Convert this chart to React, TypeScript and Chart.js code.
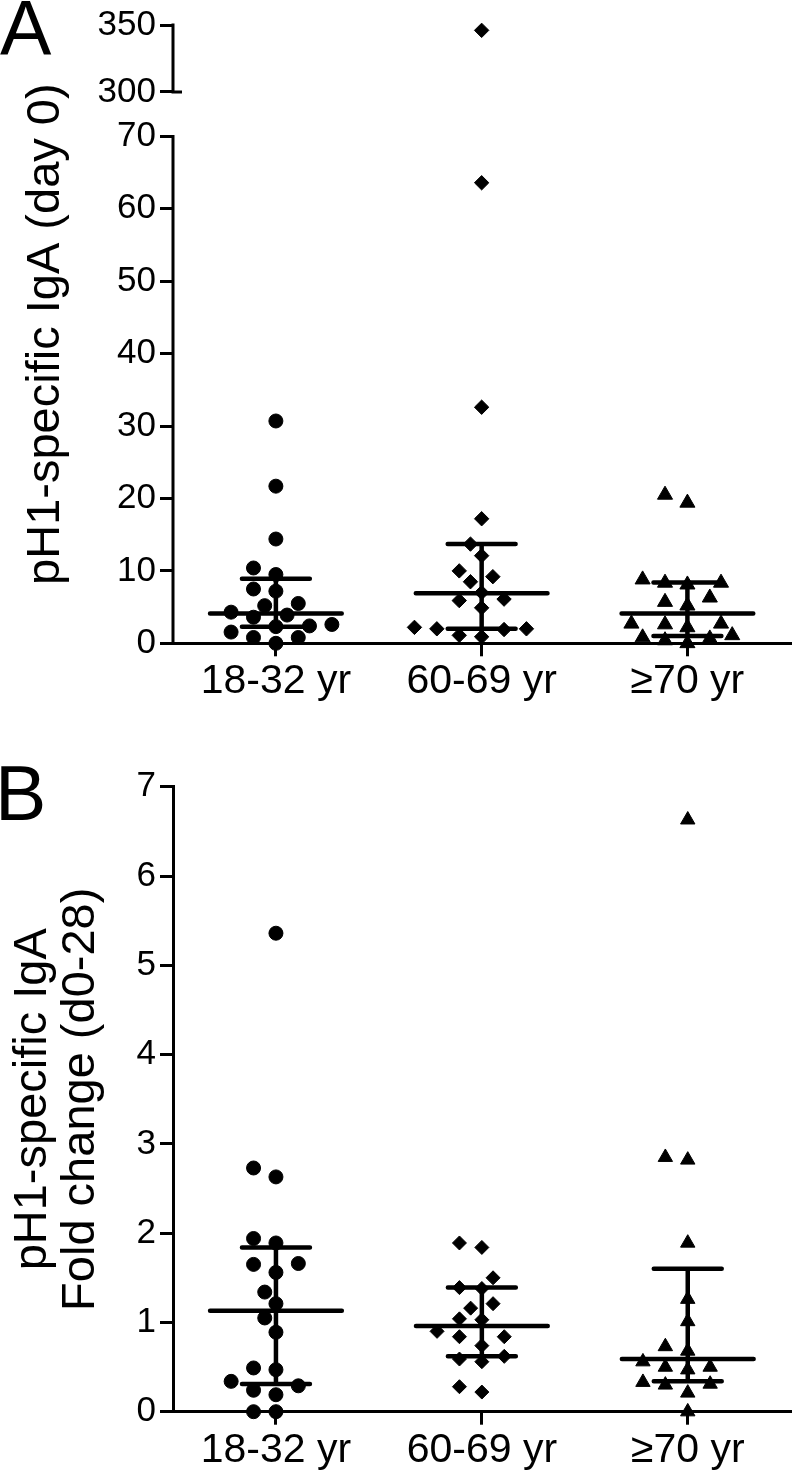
import React, { useEffect, useRef } from 'react';
import { Chart, registerables, LinearScale } from 'chart.js';

Chart.register(...registerables);

// ---------------- data ----------------
const CATEGORIES = ['18-32 yr', '60-69 yr', '≥70 yr'];
const POINT_STYLES = ['circle', 'rectRot', 'triangle'];

// Panel A: pH1-specific IgA (day 0)
const A_TITLE = 'pH1-specific IgA (day 0)';
const A_YOUNG = [30.7, 21.7, 14.4, 10.4, 9.5, 7.2, 7.5, 5.5, 5.2, 4.3, 3.6, 3.9, 2.4, 2.3, 2.6, 1.55, 0.8, 0.8, 0];
const A_MID = [346, 63.6, 32.6, 17.2, 13.7, 12.1, 10.0, 9.2, 8.5, 7.0, 5.9, 6.1, 4.9, 2.0, 2.0, 1.9, 2.2, 0.9, 1.1];
const A_OLD = [20.5, 19.4, 8.35, 8.1, 8.8, 8.35, 5.7, 5.2, 6.3, 2.7, 2.6, 2.2, 2.7, 1.1, 0.65, 0.4, 0.8, 0];
const A_MEDIAN = [4.1, 6.9, 4.1];
const A_Q1 = [2.3, 2.0, 1.0];
const A_Q3 = [8.9, 13.7, 8.4];
const A_TICKS = [0, 10, 20, 30, 40, 50, 60, 70, 300, 350];
const A_BREAK = [70, 300];
const A_MIN = 0;
const A_MAX = 350;

// Panel B: fold change d0-28
const B_TITLE = ['pH1-specific IgA', 'Fold change (d0-28)'];
const B_YOUNG = [5.36, 2.73, 2.63, 1.94, 1.89, 1.66, 1.65, 1.56, 1.34, 1.21, 1.05, 0.89, 0.49, 0.47, 0.34, 0.29, 0.24, 0.19, 0, 0];
const B_MID = [1.89, 1.84, 1.5, 1.39, 1.38, 1.21, 1.16, 1.04, 1.03, 0.9, 0.84, 0.84, 0.74, 0.59, 0.56, 0.62, 0.22, 0.28];
const B_OLD = [6.63, 2.82, 2.85, 1.89, 1.26, 1.01, 0.73, 0.68, 0.5, 0.47, 0.56, 0.5, 0.31, 0.3, 0.33, 0.21, 0];
const B_MEDIAN = [1.13, 0.96, 0.59];
const B_Q1 = [0.31, 0.62, 0.34];
const B_Q3 = [1.84, 1.39, 1.6];
const B_MIN = 0;
const B_MAX = 7;

// ---------------- layout / style ----------------
const FONT = "'Liberation Sans', Arial, Helvetica, sans-serif";
const W = 800;
const A_H = 730;
const B_H = 745;
const AXIS_LEFT = 173;
const MEDIAN_HALF = 0.32;
const IQR_HALF = 0.165;
// fraction of the broken axis used by the lower segment and where the upper one starts
const LOW_END_FRAC = (643.3 - 133.7) / (643.3 - 21.7);
const HIGH_START_FRAC = (643.3 - 89) / (643.3 - 21.7);

class BrokenLinearScale extends LinearScale {
  static id = 'brokenLinear';
  static defaults = {};
  buildTicks() {
    return A_TICKS.map((value) => ({ value }));
  }
  valueToDecimal(v: number) {
    const [lo, hi] = A_BREAK;
    const min = (this as any).min;
    const max = (this as any).max;
    if (v <= lo) return ((v - min) / (lo - min)) * LOW_END_FRAC;
    if (v >= hi) return HIGH_START_FRAC + ((v - hi) / (max - hi)) * (1 - HIGH_START_FRAC);
    return LOW_END_FRAC + ((v - lo) / (hi - lo)) * (HIGH_START_FRAC - LOW_END_FRAC);
  }
  decimalToValue(d: number) {
    const [lo, hi] = A_BREAK;
    const min = (this as any).min;
    const max = (this as any).max;
    if (d <= LOW_END_FRAC) return min + (d / LOW_END_FRAC) * (lo - min);
    if (d >= HIGH_START_FRAC) return hi + ((d - HIGH_START_FRAC) / (1 - HIGH_START_FRAC)) * (max - hi);
    return lo + ((d - LOW_END_FRAC) / (HIGH_START_FRAC - LOW_END_FRAC)) * (hi - lo);
  }
  getPixelForValue(v: any) {
    if (v === null || v === undefined || Number.isNaN(v)) return NaN;
    return (this as any).getPixelForDecimal(this.valueToDecimal(v));
  }
  getValueForPixel(p: number) {
    return this.decimalToValue((this as any).getDecimalForPixel(p));
  }
}
Chart.register(BrokenLinearScale as any);

const brokenAxisPlugin = {
  id: 'brokenAxis',
  beforeDatasetsDraw(chart: any) {
    const y = chart.scales.y;
    const ctx = chart.ctx;
    const x0 = chart.chartArea.left;
    ctx.save();
    ctx.strokeStyle = '#000';
    ctx.lineWidth = 3;
    ctx.beginPath();
    ctx.moveTo(x0, y.getPixelForValue(A_MIN) + 1.5);
    ctx.lineTo(x0, y.getPixelForValue(A_BREAK[0]) - 1.5);
    ctx.moveTo(x0, y.getPixelForValue(A_BREAK[1]) + 1.5);
    ctx.lineTo(x0, y.getPixelForValue(A_MAX) - 1.5);
    // small break stub to the right
    const py = y.getPixelForValue(A_BREAK[1]);
    ctx.moveTo(x0, py);
    ctx.lineTo(x0 + 9, py);
    ctx.stroke();
    ctx.restore();
  },
};

function summarySegments(med: number[], q1: number[], q3: number[]) {
  const pts: any[] = [];
  const gap = () => ({ x: NaN, y: null });
  med.forEach((m, g) => {
    pts.push({ x: g - MEDIAN_HALF, y: m }, { x: g + MEDIAN_HALF, y: m }, gap());
    pts.push({ x: g - IQR_HALF, y: q3[g] }, { x: g + IQR_HALF, y: q3[g] }, gap());
    pts.push({ x: g - IQR_HALF, y: q1[g] }, { x: g + IQR_HALF, y: q1[g] }, gap());
    pts.push({ x: g, y: q1[g] }, { x: g, y: q3[g] }, gap());
  });
  return pts;
}

// beeswarm-like spreading of points around the category centre, computed with the chart's scales
function swarm(chart: any, groups: number[][], step: number, minDist: number) {
  const xs = chart.scales.x;
  const ys = chart.scales.y;
  return groups.map((vals, g) => {
    const cx = xs.getPixelForValue(g);
    const order = vals.map((_, i) => i).sort((a, b) => vals[a] - vals[b]);
    const placed: number[][] = [];
    const out = vals.map(() => g);
    for (const i of order) {
      const py = ys.getPixelForValue(vals[i]);
      for (let k = 0; k < 80; k++) {
        const n = Math.ceil(k / 2);
        const px = cx + (k % 2 === 1 ? -n : n) * step;
        if (placed.every((p) => Math.hypot(p[0] - px, p[1] - py) >= minDist)) {
          placed.push([px, py]);
          out[i] = xs.getValueForPixel(px);
          break;
        }
      }
    }
    return out;
  });
}

interface Panel {
  groups: number[][];
  med: number[];
  q1: number[];
  q3: number[];
  radii: number[];
  height: number;
  top: number;
  bottom: number;
  title: string | string[];
  titleLineHeight: number;
  titlePad: number;
  yScale: any;
  plugins: any[];
}

const PANEL_A: Panel = {
  groups: [A_YOUNG, A_MID, A_OLD],
  med: A_MEDIAN,
  q1: A_Q1,
  q3: A_Q3,
  radii: [7, 7.2, 8.7],
  height: A_H,
  top: 21.7,
  bottom: 643.3,
  title: A_TITLE,
  titleLineHeight: 1,
  titlePad: 23,
  yScale: {
    type: 'brokenLinear',
    min: A_MIN,
    max: A_MAX,
    border: { display: false },
    ticks: { callback: (v: number) => String(v), autoSkip: false },
  },
  plugins: [brokenAxisPlugin],
};

const PANEL_B: Panel = {
  groups: [B_YOUNG, B_MID, B_OLD],
  med: B_MEDIAN,
  q1: B_Q1,
  q3: B_Q3,
  radii: [7, 7, 8.3],
  height: B_H,
  top: 786.8 - A_H,
  bottom: 1411.7 - A_H,
  title: B_TITLE,
  titleLineHeight: 1.02,
  titlePad: 9,
  yScale: {
    type: 'linear',
    min: B_MIN,
    max: B_MAX,
    border: { display: true, width: 3, color: '#000' },
    ticks: { stepSize: 1, autoSkip: false },
  },
  plugins: [],
};

function buildChart(canvas: HTMLCanvasElement, panel: Panel) {
  const datasets: any[] = panel.groups.map((vals, g) => ({
    label: CATEGORIES[g],
    data: vals.map((v) => ({ x: g, y: v })),
    pointStyle: POINT_STYLES[g],
    pointRadius: panel.radii[g],
    pointBackgroundColor: '#000',
    pointBorderColor: '#000',
    pointBorderWidth: 1,
    showLine: false,
    clip: false,
  }));
  datasets.push({
    label: 'median and interquartile range',
    data: summarySegments(panel.med, panel.q1, panel.q3),
    showLine: true,
    spanGaps: false,
    borderColor: '#000',
    borderWidth: 4.5,
    borderCapStyle: 'round',
    pointRadius: 0,
    clip: false,
  });

  const chart = new Chart(canvas, {
    type: 'scatter',
    data: { datasets },
    options: {
      responsive: false,
      animation: false,
      events: [],
      layout: { padding: { top: panel.top, left: 0, right: 0, bottom: 0 } },
      plugins: { legend: { display: false }, tooltip: { enabled: false } },
      scales: {
        x: {
          type: 'linear',
          min: -0.5,
          max: 2.5,
          afterBuildTicks: (s: any) => {
            s.ticks = CATEGORIES.map((_, i) => ({ value: i }));
          },
          afterFit: (s: any) => {
            s.height = panel.height - panel.bottom;
          },
          grid: { drawOnChartArea: false, drawTicks: true, tickLength: 13, lineWidth: 3, color: '#000' },
          border: { display: true, width: 3, color: '#000' },
          ticks: {
            callback: (v: number) => CATEGORIES[Math.round(v)],
            font: { family: FONT, size: 41, lineHeight: 1.2 },
            color: '#000',
            padding: 1,
            maxRotation: 0,
            autoSkip: false,
          },
        },
        y: {
          ...panel.yScale,
          afterFit: (s: any) => {
            s.width = AXIS_LEFT;
          },
          grid: { drawOnChartArea: false, drawTicks: true, tickLength: 13, lineWidth: 3, color: '#000' },
          ticks: {
            ...panel.yScale.ticks,
            font: { family: FONT, size: 35 },
            color: '#000',
            padding: 4,
          },
          title: {
            display: true,
            text: panel.title,
            color: '#000',
            font: { family: FONT, size: 47, lineHeight: panel.titleLineHeight },
            padding: { top: panel.titlePad, bottom: 0 },
          },
        },
      },
    } as any,
    plugins: panel.plugins,
  });

  const xs = swarm(chart, panel.groups, 11.2, 15);
  panel.groups.forEach((vals, g) => {
    chart.data.datasets[g].data = vals.map((v, i) => ({ x: xs[g][i], y: v })) as any;
  });
  chart.update();
  return chart;
}

const letterStyle = (top: number, left: number): React.CSSProperties => ({
  position: 'absolute',
  left,
  top,
  fontFamily: FONT,
  fontSize: 77,
  lineHeight: 1,
  color: '#000',
});

export default function App() {
  const aRef = useRef<HTMLCanvasElement>(null);
  const bRef = useRef<HTMLCanvasElement>(null);
  useEffect(() => {
    const charts = [buildChart(aRef.current!, PANEL_A), buildChart(bRef.current!, PANEL_B)];
    return () => charts.forEach((c) => c.destroy());
  }, []);
  return (
    <div style={{ position: 'absolute', left: 0, top: 0, width: W, height: A_H + B_H, background: '#fff' }}>
      <canvas ref={aRef} width={W} height={A_H} style={{ position: 'absolute', left: 0, top: 0 }} />
      <canvas ref={bRef} width={W} height={B_H} style={{ position: 'absolute', left: 0, top: A_H }} />
      <div style={letterStyle(-10, 0)}>A</div>
      <div style={letterStyle(755, -5)}>B</div>
    </div>
  );
}
